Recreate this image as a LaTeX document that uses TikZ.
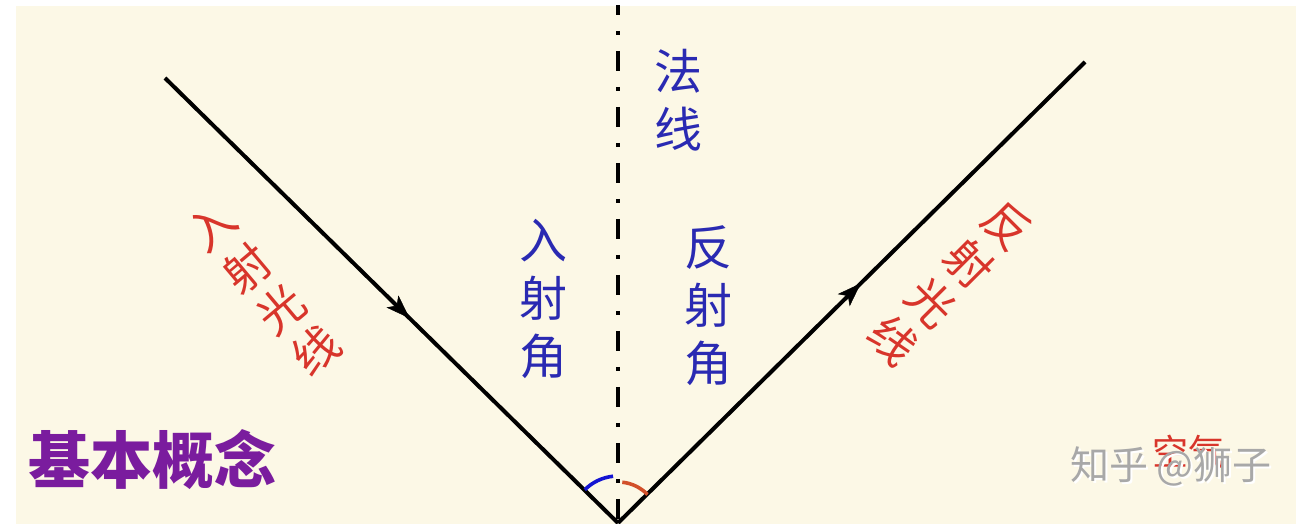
\documentclass[tikz,border=0pt]{standalone}
\usepackage{fontspec}
\newfontfamily\cjk{Noto Sans CJK SC}
\usetikzlibrary{arrows.meta,decorations.markings}
\definecolor{bgcream}{HTML}{FCF8E6}
\definecolor{txtblue}{HTML}{2A2AB2}
\definecolor{txtred}{HTML}{D8352B}
\definecolor{txtpurple}{HTML}{7A1C9E}
\definecolor{arcblue}{HTML}{1414D2}
\definecolor{arcred}{HTML}{D2502A}
\definecolor{wmgray}{HTML}{A8A8A8}
\tikzset{
  ray/.style={line width=4pt, black, line cap=butt},
  rayarrow/.style={postaction={decorate, decoration={markings,
      mark=at position #1 with {\arrow[line width=0.5pt]{Stealth[length=24pt,width=17pt,inset=6pt]}}}}},
  normalline/.style={line width=4pt, black, dash pattern=on 20pt off 16pt on 4pt off 16pt},
  lbl/.style={inner sep=0pt, align=center, font=\cjk\fontsize{48}{58}\selectfont},
  diag/.style={inner sep=0pt, align=center, text=txtred, font=\cjk\fontsize{46}{54}\selectfont},
}
\begin{document}
\begin{tikzpicture}[x=1pt,y=1pt]
\useasboundingbox (0,0) rectangle (1308,524);
\fill[white] (0,0) rectangle (1308,524);
\fill[bgcream] (16,0) rectangle (1296,518);
\begin{scope}
\clip (16,0) rectangle (1296,518);
\coordinate (O) at (618,1);
\coordinate (A) at (165,446);
\coordinate (B) at (1085,462);
\coordinate (Ntop) at (618,529);
\coordinate (Nbot) at (618,-10);
\draw[normalline] (Ntop) -- (Nbot);
\draw[ray, rayarrow=0.54] (A) -- (O);
\draw[ray, rayarrow=0.52] (O) -- (B);
\draw[arcblue, line width=3.6pt] ([shift={(135:47)}]O) arc[start angle=135, end angle=96, radius=47];
\draw[arcred, line width=3.6pt] ([shift={(84:41)}]O) arc[start angle=84, end angle=44, radius=41];
\end{scope}
\node[lbl, text=txtblue] (fx) at (678,424) {法\\线};
\node[lbl, text=txtblue] (rsj) at (543,225) {入\\射\\角};
\node[lbl, text=txtblue] (fsj) at (708,218) {反\\射\\角};
\node[diag, rotate=40] (rsgx) at (264,235) {入\\射\\光\\线};
\node[diag, rotate=-45] (fsgx) at (950,241) {反\\射\\光\\线};
\node[inner sep=0pt, text=txtpurple, font=\cjk\bfseries\fontsize{62}{70}\selectfont] (jbgn) at (152,64) {基本概念};
\node[inner sep=0pt, text=txtred, font=\cjk\fontsize{36}{40}\selectfont] (kq) at (1188,72) {空气};
\node[inner sep=0pt, text=white, font=\cjk\fontsize{39}{42}\selectfont] (wm2) at (1173,56) {知乎 @狮子};
\node[inner sep=0pt, text=wmgray, font=\cjk\fontsize{39}{42}\selectfont] (wm) at (1171,58) {知乎 @狮子};
\end{tikzpicture}
\end{document}
